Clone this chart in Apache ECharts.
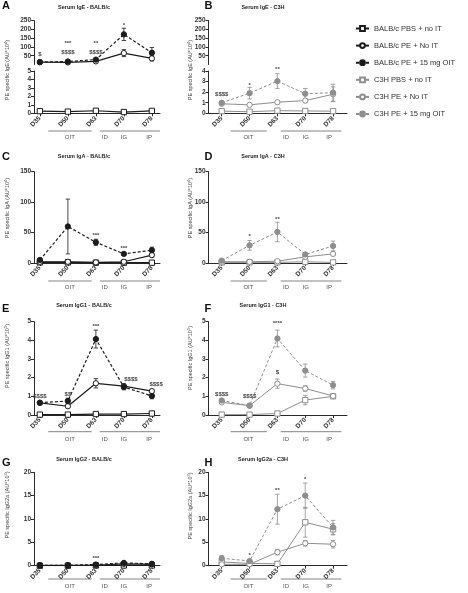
<!DOCTYPE html>
<html><head><meta charset="utf-8">
<script src="https://cdn.jsdelivr.net/npm/echarts@6/dist/echarts.min.js"></script>
<style>html,body{margin:0;padding:0;background:#fff}#c{width:468px;height:593px}</style>
</head><body><div id="c"></div><script>
// ---------- DATA ----------
const days = ['D35','D50','D63','D70','D78'];
const seriesNames = ['BALB/c PBS + no IT','BALB/c PE + No IT','BALB/c PE + 15 mg OIT','C3H PBS + no IT','C3H PE + No IT','C3H PE + 15 mg OIT'];

// A: Serum IgE - BALB/c
const igeBalbPbs = [0.25, 0.2, 0.3, 0.15, 0.28];
const igeBalbPbsErr = [0.05, 0.05, 0.05, 0.05, 0.05];
const igeBalbPe = [13, 12, 18, 65, 35];
const igeBalbPeErr = [2, 3, 5, 20, 15];
const igeBalbOit = [14, 17, 28, 172, 67];
const igeBalbOitErr = [2, 3, 6, 35, 30];
// B: Serum IgE - C3H
const igeC3hPbs = [0.2, 0.15, 0.25, 0.22, 0.2];
const igeC3hPbsErr = [0.03, 0.03, 0.03, 0.03, 0.03];
const igeC3hPe = [0.9, 0.8, 1.05, 1.2, 1.8];
const igeC3hPeErr = [0.1, 0.1, 0.15, 0.2, 0.7];
const igeC3hOit = [1.0, 1.9, 3.05, 1.85, 1.95];
const igeC3hOitErr = [0.1, 0.55, 0.7, 0.5, 0.8];
// C: Serum IgA - BALB/c
const igaBalbPbs = [1, 1, 0.5, 0.5, 0.5];
const igaBalbPbsErr = [0.3, 0.3, 0.3, 0.3, 0.3];
const igaBalbPe = [2, 2, 1, 2, 13];
const igaBalbPeErr = [0.5, 0.5, 0.5, 0.5, 3];
const igaBalbOit = [5, 60, 34, 15, 21];
const igaBalbOitErr = [2, 45, 5, 2, 5];
// D: Serum IgA - C3H
const igaC3hPbs = [1, 1, 1, 2, 1];
const igaC3hPbsErr = [0.3, 0.3, 0.3, 0.5, 0.3];
const igaC3hPe = [2, 2, 3, 10, 15];
const igaC3hPeErr = [0.5, 0.5, 1, 2, 3];
const igaC3hOit = [4, 29, 51, 14, 28];
const igaC3hOitErr = [1, 8, 16, 3, 8];
// E: Serum IgG1 - BALB/c
const igg1BalbPbs = [0.02, 0.02, 0.05, 0.05, 0.08];
const igg1BalbPbsErr = [0.01, 0.01, 0.02, 0.02, 0.03];
const igg1BalbPe = [0.65, 0.47, 1.7, 1.55, 1.28];
const igg1BalbPeErr = [0.03, 0.05, 0.25, 0.1, 0.08];
const igg1BalbOit = [0.66, 0.75, 4.07, 1.5, 1.02];
const igg1BalbOitErr = [0.05, 0.15, 0.48, 0.15, 0.15];
// F: Serum IgG1 - C3H
const igg1C3hPbs = [0.02, 0.02, 0.08, 0.8, 1.0];
const igg1C3hPbsErr = [0.01, 0.01, 0.05, 0.25, 0.05];
const igg1C3hPe = [0.68, 0.5, 1.68, 1.42, 1.02];
const igg1C3hPeErr = [0.05, 0.05, 0.25, 0.15, 0.05];
const igg1C3hOit = [0.78, 0.5, 4.1, 2.38, 1.6];
const igg1C3hOitErr = [0.08, 0.05, 0.45, 0.35, 0.2];
// G: Serum IgG2 - BALB/c
const igg2BalbPbs = [0, 0, 0.05, 0.05, 0.05];
const igg2BalbPbsErr = [0.02, 0.02, 0.02, 0.02, 0.02];
const igg2BalbPe = [0.1, 0.1, 0.1, 0.4, 0.3];
const igg2BalbPeErr = [0.05, 0.05, 0.05, 0.1, 0.1];
const igg2BalbOit = [0.1, 0.1, 0.25, 0.6, 0.4];
const igg2BalbOitErr = [0.05, 0.05, 0.1, 0.15, 0.1];
// H: Serum IgG2a - C3H
const igg2C3hPbs = [0.8, 0.5, 0.4, 9.3, 7.8];
const igg2C3hPbsErr = [0.3, 0.2, 0.2, 3.2, 1.2];
const igg2C3hPe = [0.3, 0.3, 2.9, 4.8, 4.6];
const igg2C3hPeErr = [0.2, 0.2, 0.6, 0.6, 0.8];
const igg2C3hOit = [1.6, 1.0, 12.1, 15, 8.2];
const igg2C3hOitErr = [0.5, 0.3, 3.2, 2.7, 1.5];

// significance annotations: [day index, value level, text]
const sigA = [[0, 60, '$'], [1, 123, '***'], [1, 71, '$$$$'], [2, 123, '**'], [2, 71, '$$$$'], [3, 222, '*']];
const sigB = [[0, 1.83, '$$$$'], [1, 2.6, '*'], [2, 4.15, '**']];
const sigC = [[2, 46, '***'], [3, 24.6, '***']];
const sigD = [[1, 43, '*'], [2, 72, '**']];
const sigE = [[0, 1.02, '$$$$'], [1, 1.12, '$$'], [2, 4.73, '***'], [3.25, 1.93, '$$$$'], [4.15, 1.66, '$$$$']];
const sigF = [[0, 1.12, '$$$$'], [1, 1.02, '$$$$'], [2, 4.93, '****'], [2, 2.27, '$']];
const sigG = [[2, 1.6, '***']];
const sigH = [[1, 2.3, '*'], [2, 16.1, '**'], [3, 18.5, '*']];

// ---------- LAYOUT / STYLE ----------
const FONT = 'Liberation Sans, Arial, sans-serif';
const BLACK = '#1c1c1c', GRAY = '#8e8e8e', AXIS = '#2a2a2a', TXT = '#333';
const L = {left: 34, width: 126, xmin: -0.21, xmax: 4.29, name: 7, brOit: [0.3, 1.85], brRest: [2.14, 4.29], txt: [1.07, 2.32, 3.0, 3.9]};
const R = {left: 208.5, width: 138.5, xmin: -0.475, xmax: 4.5, name: 190, brOit: [0.32, 1.62], brRest: [2.12, 4.3], txt: [0.96, 2.31, 3.02, 3.86]};

const gridDefs = [
  {side: L, top: 20.7, height: 43.8, upper: true, y: {min: 0, max: 250, custom: [50, 100, 150, 200, 250]}},
  {side: L, top: 71, height: 42.3, y: {min: 0, max: 5, interval: 1}},
  {side: R, top: 20.7, height: 43.8, upper: true, y: {min: 0, max: 250, custom: [50, 100, 150, 200, 250]}},
  {side: R, top: 71, height: 42.3, y: {min: 0, max: 4, interval: 1}},
  {side: L, top: 171.7, height: 91.3, y: {min: 0, max: 150, interval: 50}},
  {side: R, top: 171.7, height: 91.3, y: {min: 0, max: 150, interval: 50}},
  {side: L, top: 321.7, height: 93.3, y: {min: 0, max: 5, interval: 1}},
  {side: R, top: 321.7, height: 93.3, y: {min: 0, max: 5, interval: 1}},
  {side: L, top: 472.3, height: 93.4, y: {min: 0, max: 20, interval: 5}},
  {side: R, top: 472.3, height: 93.4, y: {min: 0, max: 20, interval: 5}}
];

const panels = [
  {letter: 'A', title: 'Serum IgE - BALB/c', ab: 'IgE', exp: '4', axisGrid: 1, sigGrid: 0, sig: sigA, nameY: 70, titleY: 7.3, letterY: 6,
   series: [[0, igeBalbPbs, igeBalbPbsErr, 1], [1, igeBalbPe, igeBalbPeErr, 0], [2, igeBalbOit, igeBalbOitErr, 0]], br: [17.7, 24]},
  {letter: 'B', title: 'Serum IgE - C3H', ab: 'IgE', exp: '4', axisGrid: 3, sigGrid: 3, sig: sigB, nameY: 70, titleY: 7.3, letterY: 6,
   series: [[3, igeC3hPbs, igeC3hPbsErr, 3], [4, igeC3hPe, igeC3hPeErr, 3], [5, igeC3hOit, igeC3hOitErr, 3]], br: [17.7, 24]},
  {letter: 'C', title: 'Serum IgA - BALB/c', ab: 'IgA', exp: '4', axisGrid: 4, sigGrid: 4, sig: sigC, nameY: 208, titleY: 156.7, letterY: 157,
   series: [[0, igaBalbPbs, igaBalbPbsErr, 4], [1, igaBalbPe, igaBalbPeErr, 4], [2, igaBalbOit, igaBalbOitErr, 4]], br: [18, 24.7]},
  {letter: 'D', title: 'Serum IgA - C3H', ab: 'IgA', exp: '4', axisGrid: 5, sigGrid: 5, sig: sigD, nameY: 208, titleY: 156.7, letterY: 157,
   series: [[3, igaC3hPbs, igaC3hPbsErr, 5], [4, igaC3hPe, igaC3hPeErr, 5], [5, igaC3hOit, igaC3hOitErr, 5]], br: [18, 24.7]},
  {letter: 'E', title: 'Serum IgG1 - BALB/c', ab: 'IgG1', exp: '5', axisGrid: 6, sigGrid: 6, sig: sigE, nameY: 356, titleY: 305.7, letterY: 309,
   series: [[0, igg1BalbPbs, igg1BalbPbsErr, 6], [1, igg1BalbPe, igg1BalbPeErr, 6], [2, igg1BalbOit, igg1BalbOitErr, 6]], br: [16.7, 24]},
  {letter: 'F', title: 'Serum IgG1 - C3H', ab: 'IgG1', exp: '5', axisGrid: 7, sigGrid: 7, sig: sigF, nameY: 358, titleY: 305.7, letterY: 309,
   series: [[3, igg1C3hPbs, igg1C3hPbsErr, 7], [4, igg1C3hPe, igg1C3hPeErr, 7], [5, igg1C3hOit, igg1C3hOitErr, 7]], br: [16.7, 24]},
  {letter: 'G', title: 'Serum IgG2 - BALB/c', ab: 'IgG2a', exp: '3', axisGrid: 8, sigGrid: 8, sig: sigG, nameY: 505, titleY: 459.3, letterY: 462.5,
   series: [[0, igg2BalbPbs, igg2BalbPbsErr, 8], [1, igg2BalbPe, igg2BalbPeErr, 8], [2, igg2BalbOit, igg2BalbOitErr, 8]], br: [13.3, 21]},
  {letter: 'H', title: 'Serum IgG2a - C3H', ab: 'IgG2a', exp: '3', axisGrid: 9, sigGrid: 9, sig: sigH, nameY: 506, titleY: 459.3, letterY: 462.5,
   series: [[3, igg2C3hPbs, igg2C3hPbsErr, 9], [4, igg2C3hPe, igg2C3hPeErr, 9], [5, igg2C3hOit, igg2C3hOitErr, 9]], br: [13.3, 21]}
];

const styleFor = [
  {color: BLACK, symbol: 'rect', fill: '#fff', dash: 'solid', lw: 1.2},
  {color: BLACK, symbol: 'circle', fill: '#fff', dash: 'solid', lw: 1.2},
  {color: BLACK, symbol: 'circle', fill: BLACK, dash: [3, 2], lw: 1.2},
  {color: GRAY, symbol: 'rect', fill: '#fff', dash: 'solid', lw: 1},
  {color: GRAY, symbol: 'circle', fill: '#fff', dash: 'solid', lw: 1},
  {color: GRAY, symbol: 'circle', fill: GRAY, dash: [3, 2], lw: 1}
];

// ---------- BUILD ----------
const grid = [], xAxis = [], yAxis = [], series = [];
gridDefs.forEach((g, i) => {
  grid.push({left: g.side.left, top: g.top, width: g.side.width, height: g.height, containLabel: false});
  xAxis.push({
    gridIndex: i, type: 'value', min: g.side.xmin, max: g.side.xmax, show: !g.upper,
    axisLine: {show: true, onZero: false, lineStyle: {color: AXIS, width: 1}},
    axisTick: {show: true, customValues: [0, 1, 2, 3, 4], length: 3, lineStyle: {color: AXIS}},
    axisLabel: {customValues: [0, 1, 2, 3, 4], formatter: v => days[Math.round(v)] || '', rotate: 45, fontSize: 6.5, fontWeight: 'bold',
      color: TXT, margin: 4, fontFamily: FONT},
    splitLine: {show: false}
  });
  const y = {
    gridIndex: i, type: 'value', min: g.y.min, max: g.y.max,
    axisLine: {show: true, onZero: false, lineStyle: {color: AXIS, width: 1}},
    axisTick: {show: true, length: 3, lineStyle: {color: AXIS}},
    axisLabel: {fontSize: 6.5, fontWeight: 'bold', color: TXT, margin: 3, fontFamily: FONT},
    splitLine: {show: false}
  };
  if (g.y.custom) { y.axisTick.customValues = g.y.custom; y.axisLabel.customValues = g.y.custom; }
  else y.interval = g.y.interval;
  yAxis.push(y);
});

function errRender(color, ymin) {
  return function (params, api) {
    const x = api.value(0), lo = Math.max(ymin, api.value(1)), hi = api.value(2);
    const p1 = api.coord([x, hi]), p2 = api.coord([x, lo]);
    const w = 2.2, st = {stroke: color, lineWidth: 0.8};
    return {type: 'group', children: [
      {type: 'line', shape: {x1: p1[0], y1: p1[1], x2: p2[0], y2: p2[1]}, style: st},
      {type: 'line', shape: {x1: p1[0] - w, y1: p1[1], x2: p1[0] + w, y2: p1[1]}, style: st},
      {type: 'line', shape: {x1: p2[0] - w, y1: p2[1], x2: p2[0] + w, y2: p2[1]}, style: st}
    ]};
  };
}
function sigRender(params, api) {
  const p = api.coord([api.value(0), api.value(1)]);
  return {type: 'text', x: p[0], y: p[1], style: {text: api.value(2), fill: '#444', font: 'bold 6px ' + FONT, align: 'center', verticalAlign: 'middle'}};
}

panels.forEach(p => {
  p.series.forEach(([si, vals, errs, gi]) => {
    const s = styleFor[si];
    const ymin = gridDefs[gi].y.min;
    series.push({
      type: 'custom', name: 'err' + si, xAxisIndex: gi, yAxisIndex: gi, silent: true, z: 2,
      data: vals.map((v, k) => [k, v - errs[k], v + errs[k]]),
      encode: {x: 0, y: [1, 2]}, renderItem: errRender(s.color, ymin)
    });
    series.push({
      type: 'line', name: seriesNames[si], xAxisIndex: gi, yAxisIndex: gi, z: 3,
      data: vals.map((v, k) => [k, v]),
      symbol: s.symbol, symbolSize: 5.3, showAllSymbol: true, clip: true,
      color: s.color,
      lineStyle: {color: s.color, width: s.lw, type: s.dash},
      itemStyle: {color: s.fill, borderColor: s.color, borderWidth: 1}
    });
  });
  series.push({
    type: 'custom', name: 'sig', xAxisIndex: p.sigGrid, yAxisIndex: p.sigGrid, silent: true, z: 5,
    data: p.sig, encode: {x: 0, y: 1}, renderItem: sigRender
  });
});

const chart = echarts.init(document.getElementById('c'), null, {renderer: 'canvas'});
chart.setOption({
  animation: false,
  backgroundColor: '#fff',
  grid, xAxis, yAxis, series,
  legend: {
    data: seriesNames, orient: 'vertical', left: 350, top: 19.5, itemWidth: 13, itemHeight: 6, itemGap: 9.1,
    selectedMode: false, textStyle: {fontSize: 7.5, color: TXT, fontFamily: FONT}
  }
});

// ---------- ANNOTATIONS ----------
const gfx = [];
panels.forEach(p => {
  const g = gridDefs[p.axisGrid];
  const side = g.side;
  gfx.push({type: 'text', x: side === L ? 2 : 204.5, y: p.letterY, style: {text: p.letter, font: 'bold 11px ' + FONT, fill: '#111', align: 'left', verticalAlign: 'middle'}});
  gfx.push({type: 'text', x: side === L ? 84 : 263, y: p.titleY, style: {text: p.title, font: 'bold 5.5px ' + FONT, fill: '#222', align: 'center', verticalAlign: 'middle'}});
  gfx.push({type: 'text', x: side.name, y: p.nameY, rotation: Math.PI / 2,
    style: {text: '{a|PE specific ' + p.ab + ' (AU*10}{s|' + p.exp + '}{a|)}', align: 'center', verticalAlign: 'middle',
      rich: {a: {font: '5.5px ' + FONT, fill: '#444', lineHeight: 7}, s: {font: '4px ' + FONT, fill: '#444', verticalAlign: 'top', lineHeight: 7}}}});
  // brackets under the day axis
  const base = chart.convertToPixel({gridIndex: p.axisGrid}, [0, g.y.min])[1];
  const px = v => chart.convertToPixel({gridIndex: p.axisGrid}, [v, g.y.min])[0];
  const ly = base + p.br[0], ty = base + p.br[1];
  const ls = {stroke: '#777', lineWidth: 0.9};
  gfx.push({type: 'line', shape: {x1: px(side.brOit[0]), y1: ly, x2: px(side.brOit[1]), y2: ly}, style: ls});
  gfx.push({type: 'line', shape: {x1: px(side.brRest[0]), y1: ly, x2: px(side.brRest[1]), y2: ly}, style: ls});
  ['OIT', 'ID', 'IG', 'IP'].forEach((t, k) => {
    gfx.push({type: 'text', x: px(side.txt[k]), y: ty, style: {text: t, font: '6px ' + FONT, fill: '#555', align: 'center', verticalAlign: 'middle'}});
  });
});
chart.setOption({graphic: gfx});
</script></body></html>
